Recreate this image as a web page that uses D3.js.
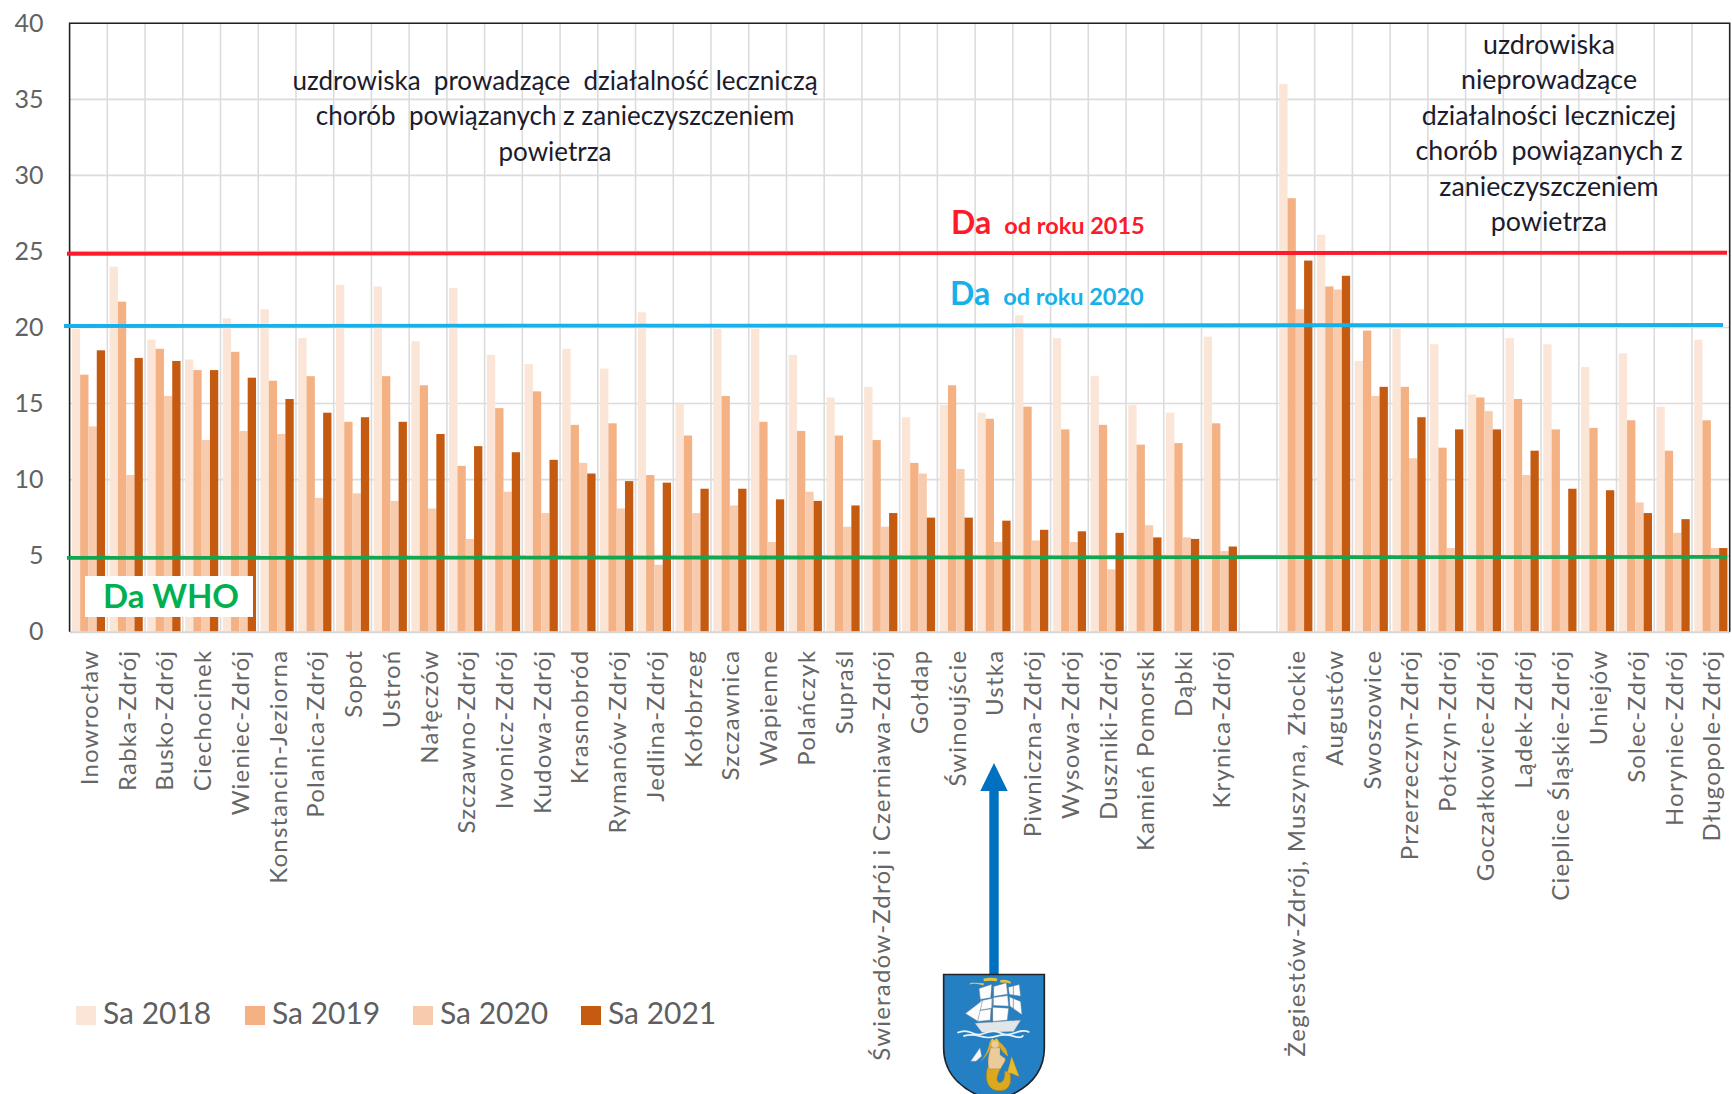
<!DOCTYPE html>
<html lang="pl">
<head>
<meta charset="utf-8">
<title>Sa 2018-2021</title>
<script src="https://cdn.jsdelivr.net/npm/d3@7"></script>
<style>
html, body { margin: 0; padding: 0; background: #fff; overflow: hidden; }
svg { display: block; font-family: Lato, "Open Sans", sans-serif; }
</style>
</head>
<body>
<div id="my_dataviz"></div>
<script>
var towns = ["Inowrocław","Rabka-Zdrój","Busko-Zdrój","Ciechocinek","Wieniec-Zdrój","Konstancin-Jeziorna","Polanica-Zdrój","Sopot","Ustroń","Nałęczów","Szczawno-Zdrój","Iwonicz-Zdrój","Kudowa-Zdrój","Krasnobród","Rymanów-Zdrój","Jedlina-Zdrój","Kołobrzeg","Szczawnica","Wapienne","Polańczyk","Supraśl","Świeradów-Zdrój i Czerniawa-Zdrój","Gołdap","Świnoujście","Ustka","Piwniczna-Zdrój","Wysowa-Zdrój","Duszniki-Zdrój","Kamień Pomorski","Dąbki","Krynica-Zdrój","","Żegiestów-Zdrój, Muszyna, Złockie","Augustów","Swoszowice","Przerzeczyn-Zdrój","Połczyn-Zdrój","Goczałkowice-Zdrój","Lądek-Zdrój","Cieplice Śląskie-Zdrój","Uniejów","Solec-Zdrój","Horyniec-Zdrój","Długopole-Zdrój"];

var sa2018 = [19.9,24.0,19.2,17.9,20.6,21.2,19.3,22.8,22.7,19.1,22.6,18.2,17.6,18.6,17.3,21.0,15.0,19.9,19.9,18.2,15.4,16.1,14.1,14.9,14.4,20.8,19.3,16.8,14.9,14.4,19.4,null,36.0,26.1,17.8,19.9,18.9,15.6,19.3,18.9,17.4,18.3,14.8,19.2];
var sa2019 = [16.9,21.7,18.6,17.2,18.4,16.5,16.8,13.8,16.8,16.2,10.9,14.7,15.8,13.6,13.7,10.3,12.9,15.5,13.8,13.2,12.9,12.6,11.1,16.2,14.0,14.8,13.3,13.6,12.3,12.4,13.7,null,28.5,22.7,19.8,16.1,12.1,15.4,15.3,13.3,13.4,13.9,11.9,13.9];
var sa2020 = [13.5,10.3,15.5,12.6,13.2,13.0,8.8,9.1,8.6,8.1,6.1,9.2,7.8,11.1,8.1,4.4,7.8,8.3,5.9,9.2,6.9,6.9,10.4,10.7,5.9,6.0,5.9,4.1,7.0,6.2,5.3,null,21.2,22.5,15.5,11.4,5.5,14.5,10.3,5.0,5.0,8.5,6.5,5.5];
var sa2021 = [18.5,18.0,17.8,17.2,16.7,15.3,14.4,14.1,13.8,13.0,12.2,11.8,11.3,10.4,9.9,9.8,9.4,9.4,8.7,8.6,8.3,7.8,7.5,7.5,7.3,6.7,6.6,6.5,6.2,6.1,5.6,null,24.4,23.4,16.1,14.1,13.3,13.3,11.9,9.4,9.3,7.8,7.4,5.5];

var seriesNames = ["Sa 2018","Sa 2019","Sa 2020","Sa 2021"];
var seriesValues = [sa2018,sa2019,sa2020,sa2021];
var seriesColors = ["#fbe5d6","#f4b183","#f8cbad","#c55a11"];

var yTicks = [0,5,10,15,20,25,30,35,40];
var limitValues = [24.85,20.1,4.85];
var limitColors = ["#ff1a2b","#16b1ea","#12a650"];

var textLeft = ["uzdrowiska  prowadzące  działalność leczniczą","chorób  powiązanych z zanieczyszczeniem","powietrza"];
var textRight = ["uzdrowiska","nieprowadzące","działalności leczniczej","chorób  powiązanych z","zanieczyszczeniem","powietrza"];

function drawChart(){
    var width = 1732, height = 1094;
    var left = 69.6, right = 1729.7, top = 23.3, bottom = 631.7;
    var svg = d3.select("#my_dataviz").append("svg").attr("width", width).attr("height", height);

    var x = d3.scaleBand().domain(towns).range([left, right]).paddingInner(0.12).paddingOuter(0.06);
    var inner = d3.scaleBand().domain(seriesNames).range([0, x.bandwidth()]);
    var y = d3.scaleLinear().domain([0,40]).range([bottom, top]);

    //Grid
    var grid = svg.append("g").attr("stroke", "#dcdcdc").attr("stroke-width", 1.6);
    grid.selectAll("line.h").data(yTicks.slice(1)).enter().append("line")
        .attr("class", "h")
        .attr("x1", left).attr("x2", right)
        .attr("y1", function (d) { return y(d); })
        .attr("y2", function (d) { return y(d); });
    grid.selectAll("line.v").data(towns.slice(1)).enter().append("line")
        .attr("class", "v")
        .attr("x1", function (d) { return x(d) - x.step()*0.06; })
        .attr("x2", function (d) { return x(d) - x.step()*0.06; })
        .attr("y1", top).attr("y2", bottom);

    //Bars
    seriesNames.forEach(function (name, s) {
        var rows = towns.map(function (t, i) { return {town: t, value: seriesValues[s][i]}; })
            .filter(function (d) { return d.value !== null; });
        svg.append("g").attr("fill", seriesColors[s])
            .selectAll("rect").data(rows).enter().append("rect")
            .attr("x", function (d) { return x(d.town) + inner(name); })
            .attr("width", inner.bandwidth())
            .attr("y", function (d) { return y(d.value); })
            .attr("height", function (d) { return y(0) - y(d.value); });
    });

    //Axes
    var yAxis = svg.append("g").attr("transform", "translate(" + left + ",0)")
        .call(d3.axisLeft(y).tickValues(yTicks).tickSize(0).tickPadding(26));
    yAxis.select(".domain").remove();
    yAxis.selectAll("text").attr("font-size", 25).attr("font-family", "Lato").attr("fill", "#626262");

    var xAxis = svg.append("g").attr("transform", "translate(0," + bottom + ")")
        .call(d3.axisBottom(x).tickSize(0));
    xAxis.select(".domain").attr("stroke", "#d6d6d6").attr("stroke-width", 2);
    xAxis.selectAll("text")
        .attr("font-size", 24).attr("font-family", "Lato").attr("fill", "#666")
        .attr("text-anchor", "end").attr("dy", 0).attr("y", 0)
        .attr("letter-spacing", 1.2)
        .attr("dominant-baseline", "central")
        .attr("transform", "translate(0,18) rotate(-90)");

    //Frame
    svg.append("path")
        .attr("d", "M" + left + "," + bottom + "V" + top + "H" + right + "V" + bottom)
        .attr("fill", "none").attr("stroke", "#222").attr("stroke-width", 1.6);

    //Limit lines
    svg.selectAll("line.limit").data(limitValues).enter().append("line")
        .attr("class", "limit")
        .attr("x1", function (d, i) { return i == 1 ? 64 : 67; })
        .attr("x2", function (d, i) { return i == 1 ? 1723 : 1727; })
        .attr("y1", function (d) { return y(d); })
        .attr("y2", function (d) { return y(d) - 1; })
        .attr("stroke", function (d, i) { return limitColors[i]; })
        .attr("stroke-width", 3.8);

    //Da labels
    function daLabel(px, py, text, color) {
        var t = svg.append("text").attr("x", px).attr("y", py).attr("fill", color).attr("font-weight", 700);
        t.append("tspan").attr("font-size", 32).text("Da");
        t.append("tspan").attr("font-size", 23.5).attr("dx", 13).text(text);
    }
    daLabel(951, 234, "od roku 2015", limitColors[0]);
    daLabel(950, 305, "od roku 2020", limitColors[1]);

    svg.append("rect").attr("x", 85).attr("y", 576).attr("width", 168).attr("height", 41).attr("fill", "#fff");
    svg.append("text").attr("x", 171).attr("y", 608).attr("text-anchor", "middle")
        .attr("font-size", 33).attr("font-weight", 700).attr("fill", "#00b050").text("Da WHO");

    //Notes in the plot
    function note(lines, cx, firstY, fontSize) {
        svg.append("g").attr("text-anchor", "middle").attr("font-size", fontSize).attr("fill", "#1c1c2c")
            .attr("font-family", "Lato")
            .selectAll("text").data(lines).enter().append("text")
            .attr("x", cx)
            .attr("y", function (d, i) { return firstY + i*35.4; })
            .attr("xml:space", "preserve")
            .style("white-space", "pre")
            .text(function (d) { return d; });
    }
    note(textLeft, 555, 90, 26);
    note(textRight, 1549, 54, 26.8);

    //Legend
    var legendX = [76,245,413,581];
    var legend = svg.append("g").selectAll("g").data(seriesNames).enter().append("g")
        .attr("transform", function (d, i) { return "translate(" + legendX[i] + ",1006)"; });
    legend.append("rect").attr("width", 20).attr("height", 19)
        .attr("fill", function (d, i) { return seriesColors[i]; });
    legend.append("text").attr("x", 27).attr("y", 18).attr("font-size", 30).attr("fill", "#5f5f5f")
        .text(function (d) { return d; });

    //Arrow
    svg.append("path").attr("d", "M994,763L1007.7,791H998.7V976H989.3V791H980.3Z").attr("fill", "#0070c0");

    drawCrest(svg);
}

//Ustka crest, drawn in the pixel grid of a 3x crop, so it gets scaled down
function drawCrest(svg) {
    var g = svg.append("g").attr("transform", "translate(900,739.5) scale(0.3333)");
    g.append("path").attr("d", "M131,705H433V925C433,1010 370,1060 282,1085C195,1060 131,1010 131,925Z")
        .attr("fill", "#2580c3").attr("stroke", "#20242a").attr("stroke-width", 5);

    var sails = [
        "M237,747L276,734L272,775L241,780Z","M281,741L319,730L323,764L281,771Z","M325,743L358,735L362,770L328,765Z",
        "M241,784L278,776L276,806L241,812Z","M280,774L323,768L326,800L280,798Z","M328,772L362,786L366,826L330,800Z",
        "M236,814L273,808L271,842L232,846Z","M278,803L326,806L322,842L278,846Z",
        "M196,822L248,782L233,845Z"];
    g.append("g").attr("fill", "#fdfdfd").attr("stroke", "#5b7a96").attr("stroke-width", 1.5)
        .selectAll("path").data(sails).enter().append("path").attr("d", function (d) { return d; });

    g.append("path").attr("d", "M225,851L362,842L341,876L246,879Z").attr("fill", "#e3e6e8").attr("stroke", "#8a949c");
    g.append("path").attr("d", "M178,812L232,868M276,735V850M340,738V845").attr("stroke", "#60707c").attr("stroke-width", 2).attr("fill", "none");
    g.append("path").attr("d", "M172,880Q195,870 215,880T258,880T300,880T345,880T388,878M190,890Q215,882 240,890T290,890T340,890T370,888")
        .attr("fill", "none").attr("stroke", "#e9f2f8").attr("stroke-width", 5);
    g.append("path").attr("d", "M208,735Q228,730 250,738L252,731Q232,729 212,730ZM250,718Q270,712 292,717L290,725Q270,722 252,725ZM300,722Q316,718 332,726L332,733Q316,727 302,730Z")
        .attr("fill", "#e8c23a");

    //Mermaid: tail, fin, hair, torso, crown, fish
    g.append("path").attr("d", "M262,985C250,1035 275,1062 312,1052C334,1044 336,1018 328,995L314,995C316,1020 306,1032 296,1028C286,1022 294,1005 302,985Z")
        .attr("fill", "#dba91e").attr("stroke", "#9b7410").attr("stroke-width", 1.5);
    g.append("path").attr("d", "M322,1000L335,950L358,1012L335,1002Z").attr("fill", "#e8bb2c").attr("stroke", "#9b7410");
    g.append("path").attr("d", "M270,905Q285,895 300,908Q322,925 324,950Q312,945 300,925L272,925Q262,950 240,968Q262,945 270,905Z")
        .attr("fill", "#dca923");
    g.append("path").attr("d", "M272,925C266,945 262,965 266,988L302,988C308,975 316,968 316,958L300,946L300,925Z")
        .attr("fill", "#eccb9a").attr("stroke", "#a8823c").attr("stroke-width", 1);
    g.append("circle").attr("cx", 285).attr("cy", 914).attr("r", 11).attr("fill", "#eccb9a");
    g.append("path").attr("d", "M272,905L276,896L283,902L290,896L297,905Z").attr("fill", "#e8c23a");
    g.append("path").attr("d", "M212,965L240,925L245,950L228,965Z").attr("fill", "#f4f6f7").attr("stroke", "#6d8192");
}

drawChart();
</script>
</body>
</html>
